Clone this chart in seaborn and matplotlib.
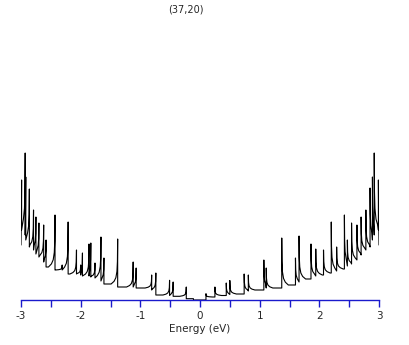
import numpy as np
import pandas as pd
import matplotlib
matplotlib.use("Agg")
import matplotlib.pyplot as plt
import seaborn as sns

TITLE = "(37,20)"
X_LABEL = "Energy (eV)"

# van Hove peaks, ordered from the gap outwards
# positive energy side
POS_E = [0.10, 0.25, 0.44, 0.50, 0.74, 0.81, 1.07, 1.11, 1.37, 1.60, 1.66,
         1.86, 1.94, 2.07, 2.20, 2.29, 2.42, 2.47, 2.54, 2.63, 2.70, 2.78,
         2.85, 2.89, 2.92, 2.99]
POS_TOP = [0.63, 1.3, 1.7, 1.95, 2.6, 2.5, 4.0, 3.2, 6.2, 4.2, 6.4,
           5.6, 5.1, 5.0, 7.8, 5.3, 8.5, 6.0, 7.7, 7.5, 8.3, 9.0,
           11.2, 12.3, 14.7, 12.0]
POS_BASE = [0.3, 0.45, 0.55, 0.6, 0.9, 1.0, 1.2, 1.2, 1.5, 1.8, 2.1,
            2.4, 2.5, 2.7, 2.9, 3.1, 3.4, 3.6, 4.0, 4.5, 5.0, 5.3,
            6.0, 6.5, 7.0, 5.5]

# negative energy side (magnitudes)
NEG_E = [0.11, 0.23, 0.45, 0.51, 0.74, 0.81, 1.07, 1.12, 1.38, 1.61, 1.66,
         1.76, 1.83, 1.86, 1.97, 2.00, 2.07, 2.21, 2.31, 2.43, 2.58, 2.62,
         2.70, 2.75, 2.79, 2.86, 2.92, 2.93, 2.99]
NEG_TOP = [0.13, 1.3, 1.8, 1.97, 2.7, 2.5, 3.2, 3.8, 6.1, 4.2, 6.3,
           3.7, 5.7, 5.6, 4.7, 3.5, 5.0, 7.8, 3.5, 8.5, 6.0, 7.5,
           7.7, 8.3, 9.0, 11.1, 12.3, 14.7, 12.0]
NEG_BASE = [0.13, 0.37, 0.45, 0.5, 1.0, 1.2, 1.3, 1.3, 1.6, 1.9, 2.2,
            2.3, 2.4, 2.4, 2.5, 2.6, 2.6, 3.0, 3.0, 3.3, 3.8, 4.3,
            4.6, 5.0, 5.3, 6.0, 6.5, 7.0, 5.5]

E_MAX = 3.0
# shape of the decay tail after each singularity: (offset in eV, share of peak left)
TAIL = [(0.004, 0.5), (0.012, 0.28), (0.03, 0.14), (0.06, 0.06), (0.11, 0.0)]


def build_side(energies, tops, bases):
    xs, ys = [0.0], [0.0]
    prev = 0.0
    for i, (e, h, b) in enumerate(zip(energies, tops, bases)):
        nxt = energies[i + 1] if i + 1 < len(energies) else E_MAX
        xs += [e, e]
        ys += [prev, h]
        for dx, frac in TAIL:
            if e + dx < nxt:
                xs.append(e + dx)
                ys.append(b + (h - b) * frac)
        prev = b
    xs.append(E_MAX)
    ys.append(prev)
    return np.array(xs), np.array(ys)


px, py = build_side(POS_E, POS_TOP, POS_BASE)
nx, ny = build_side(NEG_E, NEG_TOP, NEG_BASE)
energy = np.concatenate([-nx[::-1], px])
dos = np.concatenate([ny[::-1], py])
df = pd.DataFrame({"energy": energy, "dos": dos})

sns.set_style("white")
plt.rcParams["font.family"] = ["DejaVu Sans"]
plt.rcParams["axes.unicode_minus"] = False

fig = plt.figure(figsize=(4.09, 3.45), dpi=100)
ax = fig.add_axes([21 / 409, 45 / 345, 358 / 409, 280 / 345])
sns.lineplot(data=df, x="energy", y="dos", sort=False, estimator=None,
             color="black", linewidth=0.8, ax=ax)

blue = "#1a1acc"
ax.set_xlim(-3, 3)
ax.set_ylim(0, 28)
for side in ["top", "left", "right"]:
    ax.spines[side].set_visible(False)
ax.spines["bottom"].set_color(blue)
ax.spines["bottom"].set_linewidth(1.0)
ax.set_xticks([-3, -2, -1, 0, 1, 2, 3])
ax.set_xticks([-2.5, -1.5, -0.5, 0.5, 1.5, 2.5], minor=True)
ax.tick_params(axis="x", which="both", direction="out", length=5, width=1,
               color=blue, labelsize=7.5, pad=3, bottom=True)
ax.set_yticks([])
ax.set_ylabel("")
ax.set_xlabel(X_LABEL, fontsize=7.5, labelpad=2)
fig.text(186 / 409, 1 - 10 / 345, TITLE, ha="center", va="center", fontsize=7)

fig.savefig("out.png", dpi=100)
